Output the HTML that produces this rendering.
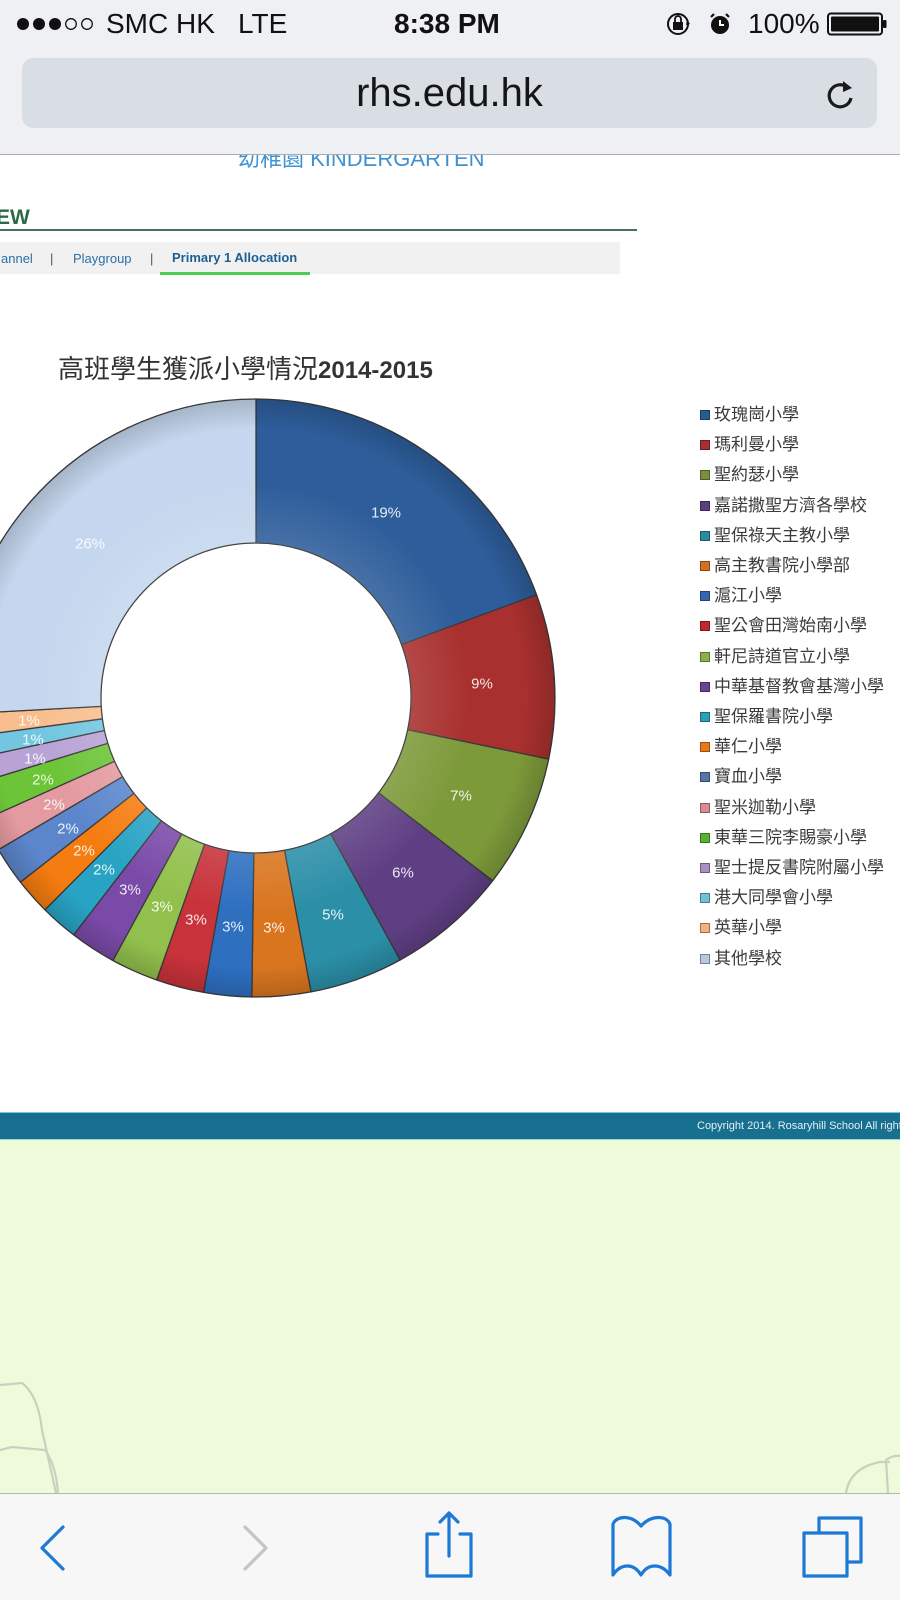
<!DOCTYPE html>
<html><head><meta charset="utf-8">
<style>
*{margin:0;padding:0;box-sizing:border-box}
html,body{width:900px;height:1600px;overflow:hidden;background:#fff;font-family:"Liberation Sans","Noto Sans CJK TC",sans-serif;position:relative}
.a{position:absolute;white-space:nowrap}
#hdr{position:absolute;left:0;top:0;width:900px;height:155px;background:#eef0f3;border-bottom:1px solid #a9abae;z-index:5}
.st{font-size:28px;line-height:28px;color:#111;top:10px}
#addr{position:absolute;left:22px;top:58px;width:855px;height:70px;border-radius:11px;background:#d9dee4}
#addr span{position:absolute;left:0;width:855px;text-align:center;top:0;line-height:70px;font-size:40px;color:#151515}
.lg{position:absolute;left:714px;height:24px;line-height:24px;font-size:17px;color:#3b3b3b;font-family:"Liberation Sans","Noto Sans CJK TC",sans-serif;white-space:nowrap}
.sq{position:absolute;left:700px;width:10px;height:10px;border:1px solid rgba(0,0,0,.35)}
</style></head><body>

<div id="hdr">
  <svg class="a" style="left:0;top:0" width="110" height="48">
    <circle cx="23" cy="24" r="6" fill="#111"/>
    <circle cx="39" cy="24" r="6" fill="#111"/>
    <circle cx="55" cy="24" r="6" fill="#111"/>
    <circle cx="71" cy="24" r="5.3" fill="none" stroke="#111" stroke-width="1.3"/>
    <circle cx="87" cy="24" r="5.3" fill="none" stroke="#111" stroke-width="1.3"/>
  </svg>
  <div class="a st" style="left:106px">SMC HK</div>
  <div class="a st" style="left:238px">LTE</div>
  <div class="a st" style="left:394px;font-weight:bold">8:38 PM</div>
  <svg class="a" style="left:660px;top:8px" width="80" height="32">
    <circle cx="18" cy="16" r="10" fill="none" stroke="#111" stroke-width="2"/>
    <rect x="13" y="14" width="10" height="8" fill="#111"/>
    <path d="M15 14 V11 A3 3 0 0 1 21 11 V14" fill="none" stroke="#111" stroke-width="1.8"/>
    <path d="M27 12 L30 16 L26 17" fill="#111"/>
    <circle cx="60" cy="17" r="9" fill="#111"/>
    <path d="M60 12 V17 H64" stroke="#fff" stroke-width="2" fill="none"/>
    <path d="M51 9 L54 6 M69 9 L66 6" stroke="#111" stroke-width="2.2"/>
  </svg>
  <div class="a st" style="left:748px">100%</div>
  <svg class="a" style="left:826px;top:12px" width="64" height="24">
    <rect x="2" y="1.5" width="54" height="21" rx="3" fill="none" stroke="#111" stroke-width="2"/>
    <rect x="5" y="4.5" width="48" height="15" rx="1" fill="#111"/>
    <rect x="57" y="8" width="3.5" height="8" rx="1" fill="#111"/>
  </svg>
  <div id="addr"><span>rhs.edu.hk</span></div>
  <svg class="a" style="left:824px;top:78px" width="34" height="34">
    <path d="M24 10 A11 11 0 1 0 27 20" fill="none" stroke="#1a1a1a" stroke-width="3.2"/>
    <path d="M19 3 L28 10 L19 14 Z" fill="#1a1a1a"/>
  </svg>
</div>

<div class="a" style="left:238px;top:148px;font-size:22px;line-height:22px;color:#3f92d2;z-index:1">幼稚園 KINDERGARTEN</div>

<div class="a" style="left:-4px;top:207px;font-size:21px;line-height:21px;font-weight:bold;color:#2a6a47">EW</div>
<div class="a" style="left:0;top:229px;width:637px;height:2px;background:#4a6d5d"></div>
<div class="a" style="left:0;top:242px;width:620px;height:32px;background:#f1f1f1"></div>
<div class="a" style="left:1px;top:251px;font-size:13px;line-height:16px;color:#2b6fa5">annel</div>
<div class="a" style="left:50px;top:251px;font-size:13px;line-height:16px;color:#555">|</div>
<div class="a" style="left:73px;top:251px;font-size:13px;line-height:16px;color:#2b6fa5">Playgroup</div>
<div class="a" style="left:150px;top:251px;font-size:13px;line-height:16px;color:#555">|</div>
<div class="a" style="left:172px;top:250px;font-size:13px;line-height:16px;font-weight:bold;color:#1d5f92">Primary 1 Allocation</div>
<div class="a" style="left:160px;top:272px;width:150px;height:3px;background:#4ccd50"></div>

<div class="a" style="left:58px;top:353px;line-height:30px;color:#333"><span style="font-size:26px;font-family:'Noto Sans CJK TC',sans-serif">高班學生獲派小學情況</span><span style="font-size:24px;font-weight:bold">2014-2015</span></div>

<svg class="a" style="left:0;top:0" width="900" height="1100">
  <defs>
    <radialGradient id="sh" gradientUnits="userSpaceOnUse" cx="256" cy="698" r="299">
      <stop offset="0.52" stop-color="#fff" stop-opacity="0.12"/>
      <stop offset="0.72" stop-color="#fff" stop-opacity="0"/>
      <stop offset="0.9" stop-color="#000" stop-opacity="0"/>
      <stop offset="1" stop-color="#000" stop-opacity="0.16"/>
    </radialGradient>
  </defs>
  <g stroke="#3a3a3a" stroke-width="1.3" stroke-linejoin="round">
    <path fill="#2d5d9a" d="M256,399 A299,299 0 0 1 536.6,594.8 L401.5,644.5 A155,155 0 0 0 256,543 Z"/>
    <path fill="#a8302e" d="M536.6,594.8 A299,299 0 0 1 548.7,759.1 L407.7,729.7 A155,155 0 0 0 401.5,644.5 Z"/>
    <path fill="#7d9a3a" d="M548.7,759.1 A299,299 0 0 1 492.6,880.8 L378.6,792.8 A155,155 0 0 0 407.7,729.7 Z"/>
    <path fill="#5f3f84" d="M492.6,880.8 A299,299 0 0 1 400.1,960 L330.7,833.8 A155,155 0 0 0 378.6,792.8 Z"/>
    <path fill="#2b8fa8" d="M400.1,960 A299,299 0 0 1 311,991.9 L284.5,850.3 A155,155 0 0 0 330.7,833.8 Z"/>
    <path fill="#d9751f" d="M311,991.9 A299,299 0 0 1 251.8,997 L253.8,853 A155,155 0 0 0 284.5,850.3 Z"/>
    <path fill="#2e6fc0" d="M251.8,997 A299,299 0 0 1 203.6,992.4 L228.8,850.6 A155,155 0 0 0 253.8,853 Z"/>
    <path fill="#c8323a" d="M203.6,992.4 A299,299 0 0 1 156.7,980 L204.5,844.2 A155,155 0 0 0 228.8,850.6 Z"/>
    <path fill="#92c04c" d="M156.7,980 A299,299 0 0 1 112.9,960.5 L181.8,834.1 A155,155 0 0 0 204.5,844.2 Z"/>
    <path fill="#7a4aa8" d="M112.9,960.5 A299,299 0 0 1 73.6,934.9 L161.4,820.8 A155,155 0 0 0 181.8,834.1 Z"/>
    <path fill="#28a3c4" d="M73.6,934.9 A299,299 0 0 1 44.9,909.8 L146.6,807.8 A155,155 0 0 0 161.4,820.8 Z"/>
    <path fill="#f57c10" d="M44.9,909.8 A299,299 0 0 1 20.4,882.1 L133.9,793.4 A155,155 0 0 0 146.6,807.8 Z"/>
    <path fill="#5b86cc" d="M20.4,882.1 A299,299 0 0 1 -1.6,849.7 L122.5,776.7 A155,155 0 0 0 133.9,793.4 Z"/>
    <path fill="#e39aa0" d="M-1.6,849.7 A299,299 0 0 1 -16.9,820.1 L114.5,761.3 A155,155 0 0 0 122.5,776.7 Z"/>
    <path fill="#6cc437" d="M-16.9,820.1 A299,299 0 0 1 -29.9,785.4 L107.8,743.3 A155,155 0 0 0 114.5,761.3 Z"/>
    <path fill="#b9a3d6" d="M-29.9,785.4 A299,299 0 0 1 -36.4,760.7 L104.4,730.5 A155,155 0 0 0 107.8,743.3 Z"/>
    <path fill="#72c6e0" d="M-36.4,760.7 A299,299 0 0 1 -40.3,738.1 L102.4,718.8 A155,155 0 0 0 104.4,730.5 Z"/>
    <path fill="#f9be8e" d="M-40.3,738.1 A299,299 0 0 1 -42.6,714.2 L101.2,706.4 A155,155 0 0 0 102.4,718.8 Z"/>
    <path fill="#c5d7ee" d="M-42.6,714.2 A299,299 0 0 1 256,399 L256,543 A155,155 0 0 0 101.2,706.4 Z"/>
  </g>
  <circle cx="256" cy="698" r="227" fill="none" stroke="url(#sh)" stroke-width="144"/>
  <g font-family="Liberation Sans, sans-serif" font-size="15" fill="#fff" fill-opacity="0.88" text-anchor="middle" dominant-baseline="central">
    <text x="386" y="513">19%</text>
    <text x="482" y="684">9%</text>
    <text x="461" y="796">7%</text>
    <text x="403" y="873">6%</text>
    <text x="333" y="915">5%</text>
    <text x="274" y="928">3%</text>
    <text x="233" y="927">3%</text>
    <text x="196" y="920">3%</text>
    <text x="162" y="907">3%</text>
    <text x="130" y="890">3%</text>
    <text x="104" y="870">2%</text>
    <text x="84" y="851">2%</text>
    <text x="68" y="829">2%</text>
    <text x="54" y="805">2%</text>
    <text x="43" y="780">2%</text>
    <text x="35" y="759">1%</text>
    <text x="33" y="740">1%</text>
    <text x="29" y="721">1%</text>
    <text x="90" y="544">26%</text>
  </g>
</svg>

<div class="sq" style="top:410px;background:#2a5a96"></div><div class="lg" style="top:403px">玫瑰崗小學</div>
<div class="sq" style="top:440px;background:#a52f32"></div><div class="lg" style="top:433px">瑪利曼小學</div>
<div class="sq" style="top:470px;background:#7a8f3c"></div><div class="lg" style="top:463px">聖約瑟小學</div>
<div class="sq" style="top:501px;background:#5c3f7e"></div><div class="lg" style="top:494px">嘉諾撒聖方濟各學校</div>
<div class="sq" style="top:531px;background:#2a8aa0"></div><div class="lg" style="top:524px">聖保祿天主教小學</div>
<div class="sq" style="top:561px;background:#d4701e"></div><div class="lg" style="top:554px">高主教書院小學部</div>
<div class="sq" style="top:591px;background:#3366b0"></div><div class="lg" style="top:584px">滬江小學</div>
<div class="sq" style="top:621px;background:#c0282e"></div><div class="lg" style="top:614px">聖公會田灣始南小學</div>
<div class="sq" style="top:652px;background:#8cb04a"></div><div class="lg" style="top:645px">軒尼詩道官立小學</div>
<div class="sq" style="top:682px;background:#6b4394"></div><div class="lg" style="top:675px">中華基督教會基灣小學</div>
<div class="sq" style="top:712px;background:#2aa0b8"></div><div class="lg" style="top:705px">聖保羅書院小學</div>
<div class="sq" style="top:742px;background:#e87818"></div><div class="lg" style="top:735px">華仁小學</div>
<div class="sq" style="top:772px;background:#5674a8"></div><div class="lg" style="top:765px">寶血小學</div>
<div class="sq" style="top:803px;background:#d88a92"></div><div class="lg" style="top:796px">聖米迦勒小學</div>
<div class="sq" style="top:833px;background:#5ab030"></div><div class="lg" style="top:826px">東華三院李賜豪小學</div>
<div class="sq" style="top:863px;background:#a890c0"></div><div class="lg" style="top:856px">聖士提反書院附屬小學</div>
<div class="sq" style="top:893px;background:#70c0d8"></div><div class="lg" style="top:886px">港大同學會小學</div>
<div class="sq" style="top:923px;background:#f0b080"></div><div class="lg" style="top:916px">英華小學</div>
<div class="sq" style="top:954px;background:#b8c8e0"></div><div class="lg" style="top:947px">其他學校</div>

<div class="a" style="left:0;top:1112px;width:900px;height:28px;background:#17708f;border-top:1px solid #7cc6dc;border-bottom:1px solid #9fd3df"></div>
<div class="a" style="left:697px;top:1112px;height:28px;line-height:28px;font-size:11px;color:#e6eff3;width:203px;overflow:hidden">Copyright 2014. Rosaryhill School All rights reserved</div>
<div class="a" style="left:0;top:1140px;width:900px;height:353px;background:#effadb"></div>
<svg class="a" style="left:0;top:1140px" width="900" height="353">
  <g fill="none" stroke="#c9d0bd" stroke-width="2.2">
    <path d="M0,245 L22,243 Q38,255 42,290 L56,353"/>
    <path d="M0,310 L12,307 L45,310 Q56,325 58,353"/>
    <path d="M846,353 Q850,328 880,322 L890,322"/>
    <path d="M888,353 L886,320 Q893,315 900,316"/>
  </g>
</svg>

<div class="a" style="left:0;top:1493px;width:900px;height:107px;background:#f7f7f7;border-top:1px solid #b4b4b4"></div>
<svg class="a" style="left:0;top:1493px" width="900" height="107">
  <g fill="none" stroke-width="3.2" stroke-linecap="round" stroke-linejoin="round">
    <polyline points="63,34 42,55 63,76" stroke="#1d78d6"/>
    <polyline points="245,34 266,55 245,76" stroke="#c4c4c8"/>
    <path d="M438,41 H427 V83 H471 V41 H460" stroke="#1d78d6"/>
    <path d="M449,20 V63 M440,29 L449,20 L458,29" stroke="#1d78d6"/>
    <path d="M641,33 C632,22 617,22 613,31 V82 C621,70 634,70 641,82 C648,70 661,70 670,82 V31 C666,22 651,22 641,33 Z" stroke="#1d78d6"/>
    <rect x="804" y="40" width="43" height="43" stroke="#1d78d6"/>
    <path d="M819,40 V25 H861 V69 H847" stroke="#1d78d6"/>
  </g>
</svg>
</body></html>
